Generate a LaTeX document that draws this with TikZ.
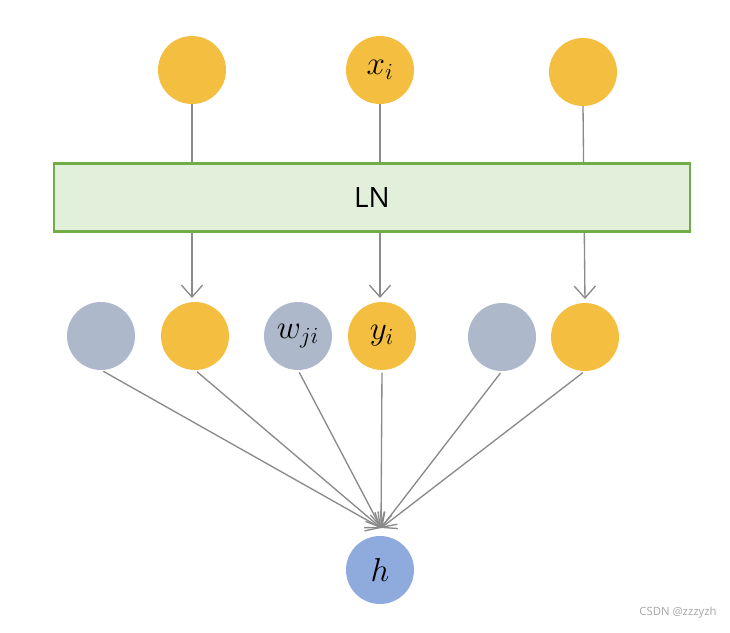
\documentclass[tikz,border=0pt]{standalone}
\usepackage{fontspec}
\setsansfont{Open Sans}
\usepackage{xcolor}
\usepackage{tikz}
\usetikzlibrary{positioning,arrows.meta}
\usepackage{amsmath}

\definecolor{unitgold}{HTML}{F4BE41}
\definecolor{unitgray}{HTML}{ADB9CA}
\definecolor{unitblue}{HTML}{8FAADC}
\definecolor{lnedge}{HTML}{70AD47}
\definecolor{lnfill}{HTML}{E2EFDA}
\definecolor{wirecol}{HTML}{8A8A8A}

\begin{document}
\begin{tikzpicture}[
  x=0.75pt, y=-0.75pt,
  every node/.style={circle, minimum size=51pt, inner sep=0pt, outer sep=0pt,
    font=\fontsize{25}{30}\selectfont},
  inp/.style={fill=unitgold},
  wgt/.style={fill=unitgray},
  outp/.style={fill=unitblue},
  normbox/.style={rectangle, draw=lnedge, fill=lnfill, line width=2.2pt,
    minimum width=477pt, minimum height=51pt, font=\sffamily\fontsize{21}{25}\selectfont},
  conn/.style={draw=wirecol, line width=1pt, -{Straight Barb[length=9pt,width=16pt]}}
]
\useasboundingbox (0,0) rectangle (730,632);

% input units
\node[inp] (x1) at (192,70) {};
\node[inp] (x2) at (380,70) {$x_i$};
\node[inp] (x3) at (583,72) {};

% normalised units and weights
\node[wgt] (w1) at (101,336) {};
\node[inp] (y1) at (195,336) {};
\node[wgt] (w2) at (298,336) {$w_{ji}$};
\node[inp] (y2) at (382,336) {$y_i$};
\node[wgt] (w3) at (502,337) {};
\node[inp] (y3) at (585,337) {};

% output unit
\node[outp] (h) at (380,570) {$h$};
\coordinate (hin) at (381,528);

% through the norm layer
\draw[conn, shorten >=3pt] (x1.south) -- (x1.south |- y1.north);
\draw[conn, shorten >=3pt] (x2.south) -- (x2.south |- y2.north);
\draw[conn, shorten >=3pt] (x3.south) -- (y3.north);

\node[normbox] (ln) at (372,197.5) {LN};

% into h
\foreach \u in {w1,y1,w2,y2,w3,y3}
  \draw[conn, shorten <=2pt] (\u.south) -- (hin);

\node[rectangle, minimum size=0pt, text=gray!70, font=\sffamily\fontsize{8.5}{10}\selectfont] (mark) at (678,613) {CSDN @zzzyzh};
\end{tikzpicture}
\end{document}
